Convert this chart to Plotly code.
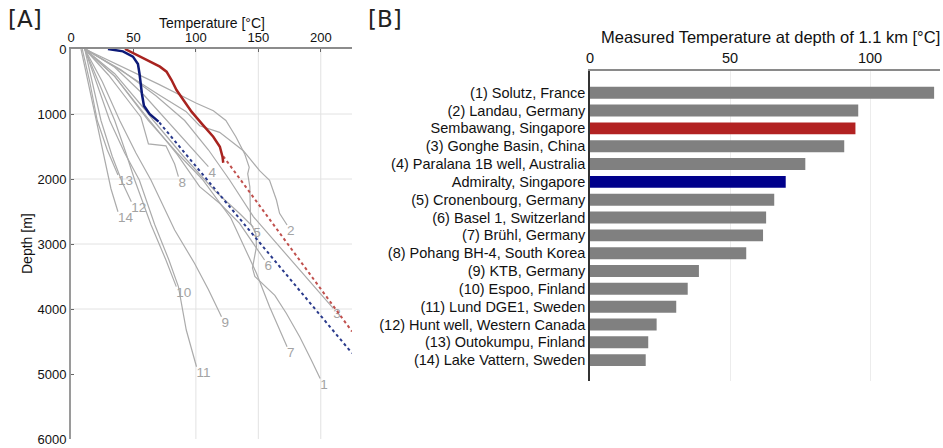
import plotly.graph_objects as go

W, H = 943, 448
FONT = "Liberation Sans, Arial, sans-serif"

# ---------------- Panel A data: temperature (degC) vs depth (m) ----------------
well_ids = ["1", "2", "3", "4", "5", "6", "7", "8", "9", "10", "11", "12", "13", "14"]
well_T = [
    [11, 40, 70, 100, 114, 124, 132, 139, 142.7, 141.5, 143.2, 143.8, 148, 148.5, 145.3, 147.2, 156.5, 163.2, 172.5, 183.2, 192.5, 199.5],
    [11, 40, 70, 92, 103, 119, 138, 151, 159, 164.5, 167, 173],
    [11, 40, 68, 91, 110, 127, 146, 164.5, 183, 210],
    [12, 35, 58, 77, 95, 110],
    [11, 35, 60, 66, 90, 115, 135, 146],
    [11, 35, 63, 85, 103, 119, 135, 155],
    [11, 35, 62, 85, 105, 128, 148.5, 159, 173],
    [11, 30, 50, 56, 62, 76, 83, 86],
    [11, 25, 39, 52, 64, 83, 99, 110, 120.5],
    [11, 22, 35, 44, 51, 64, 76, 84.3],
    [11, 20, 31, 43, 54.7, 67, 78.4, 86, 92.3, 100.5],
    [11, 17, 24, 33, 41, 48.3],
    [9, 15, 21, 29, 37.6],
    [8, 13, 20, 26, 32, 37.6],
]
well_D = [
    [0, 260, 540, 830, 950, 1100, 1350, 1610, 1820, 1920, 2120, 2680, 2840, 3040, 3370, 3500, 3660, 3790, 4070, 4430, 4790, 5070],
    [0, 330, 700, 960, 1180, 1282, 1564, 1872, 2020, 2323, 2528, 2708],
    [0, 320, 720, 1100, 1550, 2015, 2580, 2990, 3400, 3990],
    [0, 280, 700, 1100, 1480, 1810],
    [0, 380, 950, 1100, 1650, 2180, 2530, 2740],
    [0, 420, 1100, 1620, 2118, 2374, 2682, 3246],
    [0, 420, 1100, 1600, 2000, 2600, 3450, 3964, 4580],
    [0, 400, 900, 1050, 1460, 1490, 1770, 1964],
    [0, 500, 1100, 1600, 2015, 2785, 3300, 3700, 4118],
    [0, 500, 1100, 1600, 2015, 2700, 3246, 3656],
    [0, 500, 1100, 1600, 2015, 2700, 3246, 3656, 4323, 4888],
    [0, 500, 1100, 1650, 2050, 2349],
    [0, 500, 1100, 1550, 1938],
    [0, 450, 1100, 1650, 2150, 2503],
]

admiralty_T = [29.6, 41.6, 49.6, 53.6, 54.9, 55.7, 56.8, 58.4, 62.9, 70.1]
admiralty_D = [0, 36, 118, 231, 385, 538, 692, 872, 1000, 1118]
admiralty_ext_T = [70.7, 225]
admiralty_ext_D = [1130, 4680]

sembawang_T = [43.2, 49.9, 60.5, 71.2, 76.5, 80.5, 84.5, 89.9, 96.5, 104.5, 113.9, 119.2, 121.3, 121.9]
sembawang_D = [0, 67, 169, 272, 349, 477, 631, 785, 964, 1144, 1349, 1503, 1657, 1750]
sembawang_ext_T = [121.9, 225]
sembawang_ext_D = [1650, 4345]

temp_ticks = [0, 50, 100, 150, 200]
depth_ticks = [0, 1000, 2000, 3000, 4000, 5000, 6000]

# ---------------- Panel B data ----------------
sites = ["(1) Solutz, France", "(2) Landau, Germany", "Sembawang, Singapore",
         "(3) Gonghe Basin, China", "(4) Paralana 1B well, Australia", "Admiralty, Singapore",
         "(5) Cronenbourg, Germany", "(6) Basel 1, Switzerland", "(7) Brühl, Germany",
         "(8) Pohang BH-4, South Korea", "(9) KTB, Germany", "(10) Espoo, Finland",
         "(11) Lund DGE1, Sweden", "(12) Hunt well, Western Canada", "(13) Outokumpu, Finland",
         "(14) Lake Vattern, Sweden"]
temp_1100m = [122.9, 95.8, 94.8, 90.8, 76.9, 69.9, 65.8, 62.9, 61.8, 55.8, 38.9, 34.9, 30.8, 23.8, 20.8, 19.9]
bar_ticks = [0, 50, 100]

GREY = "#808080"
RED_BAR = "#b22222"
BLUE_BAR = "#00008b"
bar_colors = [RED_BAR if s.startswith("Sembawang") else BLUE_BAR if s.startswith("Admiralty") else GREY
              for s in sites]

fig = go.Figure()

# grey well profiles
for t, d in zip(well_T, well_D):
    fig.add_trace(go.Scatter(x=t, y=d, mode="lines", line=dict(color="#ababab", width=1.2),
                             xaxis="x", yaxis="y", hoverinfo="skip"))
# curve numbers at the ends of curves
fig.add_trace(go.Scatter(x=[t[-1] for t in well_T], y=[d[-1] for d in well_D], mode="text",
                         text=well_ids, textposition="bottom right",
                         textfont=dict(family=FONT, size=13.5, color="#a3a3a3"),
                         xaxis="x", yaxis="y", hoverinfo="skip"))
# extrapolations
fig.add_trace(go.Scatter(x=sembawang_ext_T, y=sembawang_ext_D, mode="lines",
                         line=dict(color="#c0504d", width=2, dash="dot"), xaxis="x", yaxis="y"))
fig.add_trace(go.Scatter(x=admiralty_ext_T, y=admiralty_ext_D, mode="lines",
                         line=dict(color="#2a3a8c", width=2, dash="dot"), xaxis="x", yaxis="y"))
# measured Singapore profiles
fig.add_trace(go.Scatter(x=sembawang_T, y=sembawang_D, mode="lines",
                         line=dict(color="#a8231f", width=2.5), xaxis="x", yaxis="y"))
fig.add_trace(go.Scatter(x=admiralty_T, y=admiralty_D, mode="lines",
                         line=dict(color="#0d1a78", width=2.5), xaxis="x", yaxis="y"))

# bars
fig.add_trace(go.Bar(x=temp_1100m, y=sites, orientation="h", marker=dict(color=bar_colors, line=dict(width=0)),
                     width=0.67, xaxis="x2", yaxis="y2"))

def px_x(p):
    return p / W

def px_y(p):
    return 1 - p / H

shapes = []
for v in [100, 150, 200]:
    shapes.append(dict(type="line", xref="x", yref="y", x0=v, x1=v, y0=0, y1=6000,
                       line=dict(color="#e2e2e2", width=1), layer="below"))
for h in [1000, 2000, 3000, 4000]:
    shapes.append(dict(type="line", xref="x", yref="y", x0=0, x1=225, y0=h, y1=h,
                       line=dict(color="#e2e2e2", width=1), layer="below"))

fig.update_layout(
    width=W, height=H, margin=dict(l=0, r=0, t=0, b=0, autoexpand=False),
    paper_bgcolor="white", plot_bgcolor="white", showlegend=False,
    font=dict(family=FONT, size=13, color="#111"),
    shapes=shapes,
    xaxis=dict(domain=[px_x(71), px_x(352)], range=[0, 225], side="top", anchor="y",
               automargin=False,
               tickvals=temp_ticks, showgrid=False, zeroline=False, showline=True,
               linecolor="#8c8c8c", linewidth=2, ticks="inside", ticklen=3, tickcolor="#666",
               tickfont=dict(size=13)),
    yaxis=dict(domain=[px_y(439), px_y(49)], range=[6000, 0], anchor="x",
               automargin=False,
               tickvals=depth_ticks, showgrid=False, zeroline=False, showline=True,
               linecolor="#9a9a9a", linewidth=2, ticks="inside", ticklen=3, tickcolor="#666",
               tickfont=dict(size=13)),
    xaxis2=dict(domain=[px_x(590), px_x(940)], range=[0, 125], side="top", anchor="y2",
                automargin=False,
                tickvals=bar_ticks, showgrid=True, gridcolor="#ececec", gridwidth=1,
                zeroline=False, showline=True, linecolor="#8a8a8a", linewidth=1.5,
                ticks="", tickfont=dict(size=14.5)),
    yaxis2=dict(domain=[px_y(381), px_y(71)], type="category", range=[16.17, -1.22], anchor="x2",
                automargin=False,
                showgrid=False, zeroline=False, showline=True, linecolor="#333", linewidth=1.5,
                ticks="", tickfont=dict(size=14.5, color="#111")),
    annotations=[
        dict(text="[A]", x=px_x(6), y=px_y(19), xref="paper", yref="paper", xanchor="left",
             yanchor="middle", showarrow=False, font=dict(family="DejaVu Sans", size=23, color="#222")),
        dict(text="[B]", x=px_x(366), y=px_y(19), xref="paper", yref="paper", xanchor="left",
             yanchor="middle", showarrow=False, font=dict(family="DejaVu Sans", size=23, color="#222")),
        dict(text="Temperature [°C]", x=px_x(212), y=px_y(22.5), xref="paper", yref="paper",
             xanchor="center", yanchor="middle", showarrow=False, font=dict(size=14)),
        dict(text="Depth [m]", x=px_x(27), y=px_y(244), xref="paper", yref="paper", textangle=-90,
             xanchor="center", yanchor="middle", showarrow=False, font=dict(size=14)),
        dict(text="Measured Temperature at depth of 1.1 km [°C]", x=px_x(770.5), y=px_y(37),
             xref="paper", yref="paper", xanchor="center", yanchor="middle", showarrow=False,
             font=dict(size=16.5)),
    ],
)

fig.write_html("out.html")
